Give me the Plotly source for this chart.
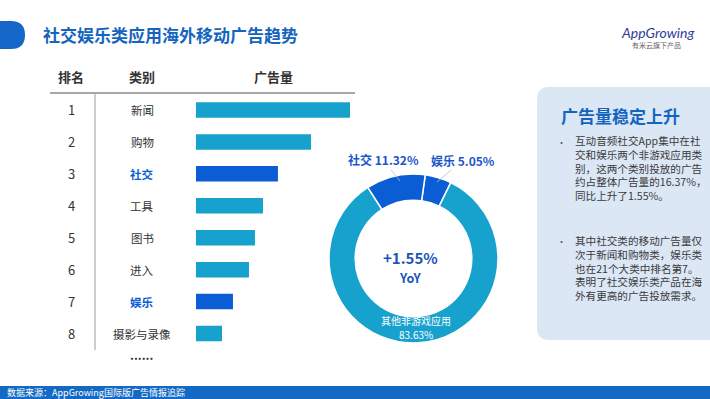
import plotly.graph_objects as go

W, H = 710, 399
FONT = "Noto Sans CJK SC"

# ---------------- data ----------------
ranks = [1, 2, 3, 4, 5, 6, 7, 8]
categories = ["新闻", "购物", "社交", "工具", "图书", "进入", "娱乐", "摄影与录像"]
ad_volume = [100, 74.7, 53.2, 43.5, 38.3, 34.4, 24.0, 16.9]   # relative ad volume index
highlight = ["社交", "娱乐"]

pie_labels = ["娱乐", "其他非游戏应用", "社交"]
pie_values = [5.05, 83.63, 11.32]
yoy_text = "+1.55%"

# ---------------- colours ----------------
C_LIGHT = "#17A2CE"
C_DARK = "#0B5DD6"
C_TITLE = "#1565C0"
C_TEXT = "#333333"


def X(p):
    return p / W


def Y(p):
    return 1 - p / H


fig = go.Figure()

bar_colors = [C_DARK if c in highlight else C_LIGHT for c in categories]
fig.add_trace(go.Bar(
    x=ad_volume, y=ranks, orientation="h",
    marker=dict(color=bar_colors, line=dict(width=0)),
    width=0.485, xaxis="x", yaxis="y", showlegend=False,
    hoverinfo="skip",
))

PCX, PCY, PR = 413.5, 258.5, 84.5
fig.add_trace(go.Pie(
    labels=pie_labels, values=pie_values, hole=0.69, sort=False,
    direction="clockwise", rotation=8,
    marker=dict(colors=[C_DARK, C_LIGHT, C_DARK], line=dict(color="white", width=1.5)),
    textinfo="none", hoverinfo="skip", showlegend=False,
    domain=dict(x=[X(PCX - PR), X(PCX + PR)], y=[Y(PCY + PR), Y(PCY - PR)]),
))

annotations = []
shapes = []


def note(text, x, y, size, color, xanchor="center", family=FONT, **kw):
    d = dict(text=text, x=x, y=y, xref="paper", yref="paper", xanchor=xanchor, yanchor="middle",
             showarrow=False, font=dict(size=size, color=color, family=family))
    d.update(kw)
    annotations.append(d)


# title tab + title
shapes.append(dict(type="path", xref="paper", yref="paper",
                   path=f"M {X(0)},{Y(21)} L {X(11)},{Y(21)} Q {X(25)},{Y(21)} {X(25)},{Y(35)} "
                        f"Q {X(25)},{Y(49)} {X(11)},{Y(49)} L {X(0)},{Y(49)} Z",
                   fillcolor="#1467C9", line=dict(width=0)))
note("<b>社交娱乐类应用海外移动广告趋势</b>", X(41), Y(34), 17, C_TITLE, xanchor="left")

# logo
note("<i>AppGrowing</i>", X(657), Y(32), 14, "#2F3C9A", family="Lato")
note("有米云旗下产品", X(656), Y(45), 7, "#666666")

# table headers
for txt, xc in [("排名", 71), ("类别", 142), ("广告量", 273)]:
    note(f"<b>{txt}</b>", X(xc), Y(77), 13, C_TEXT)
shapes.append(dict(type="line", xref="paper", yref="paper", x0=X(50), x1=X(355), y0=Y(93), y1=Y(93),
                   line=dict(color="#A8A8A8", width=1.8)))
shapes.append(dict(type="line", xref="paper", yref="paper", x0=X(95), x1=X(95), y0=Y(94), y1=Y(350),
                   line=dict(color="#9A9A9A", width=1)))

# table rows
for r, c in zip(ranks, categories):
    note(str(r), X(71), r, 13, C_TEXT, yref="y")
    hl = c in highlight
    note(f"<b>{c}</b>" if hl else c, X(142), r, 11.5, C_DARK if hl else C_TEXT, yref="y")
note("<b>......</b>", X(142), Y(354), 12, C_TEXT)

# donut labels
pv = dict(zip(pie_labels, pie_values))
annotations.append(dict(text=f"<b>社交 {pv['社交']:.2f}%</b>", x=X(400), y=Y(181), ax=-17, ay=-21,
                        xref="paper", yref="paper",
                        showarrow=True, arrowhead=0, arrowwidth=0.8, arrowcolor="#BBBBBB", standoff=0,
                        font=dict(size=12, color="#1A56C8", family=FONT)))
annotations.append(dict(text=f"<b>娱乐 {pv['娱乐']:.2f}%</b>", x=X(437), y=Y(182), ax=26, ay=-22,
                        xref="paper", yref="paper",
                        showarrow=True, arrowhead=0, arrowwidth=0.8, arrowcolor="#BBBBBB", standoff=0,
                        font=dict(size=12, color="#1A56C8", family=FONT)))
note("其他非游戏应用", X(416), Y(320), 10, "white", borderpad=0)
note(f"{pv['其他非游戏应用']:.2f}%", X(416), Y(334.5), 10, "white", borderpad=0)
note(f"<b>{yoy_text}</b>", X(410), Y(257), 15, "#1A56B8", borderpad=0)
note("<b>YoY</b>", X(410), Y(277.5), 12.5, "#1A56B8", borderpad=0)

# right panel
r0 = 12
x0p, x1p, y0p, y1p = 537, 730, 87, 340
shapes.append(dict(type="path", xref="paper", yref="paper",
                   path=(f"M {X(x0p + r0)},{Y(y0p)} L {X(x1p)},{Y(y0p)} L {X(x1p)},{Y(y1p)} "
                         f"L {X(x0p + r0)},{Y(y1p)} Q {X(x0p)},{Y(y1p)} {X(x0p)},{Y(y1p - r0)} "
                         f"L {X(x0p)},{Y(y0p + r0)} Q {X(x0p)},{Y(y0p)} {X(x0p + r0)},{Y(y0p)} Z"),
                   fillcolor="#DCE7F6", line=dict(width=0), layer="below"))
note("<b>广告量稳定上升</b>", X(559), Y(115), 17, C_TITLE, xanchor="left")
bullet1 = ["互动音频社交App集中在社", "交和娱乐两个非游戏应用类", "别，这两个类别投放的广告",
           "约占整体广告量的16.37%，", "同比上升了1.55%。"]
bullet2 = ["其中社交类的移动广告量仅", "次于新闻和购物类，娱乐类", "也在21个大类中排名第7。",
           "表明了社交娱乐类产品在海", "外有更高的广告投放需求。"]
for lines, ytop in [(bullet1, 142), (bullet2, 241)]:
    note("<br>".join(lines), X(573), Y(ytop + 2 * 13.25), 10.6, "#3A3A3A", xanchor="left", align="left")
    note("•", X(561), Y(ytop), 9, "#555555")

# footer
shapes.append(dict(type="rect", xref="paper", yref="paper", x0=0, x1=1, y0=0, y1=Y(386),
                   fillcolor="#1469C4", line=dict(width=0)))
note("数据来源：AppGrowing国际版广告情报追踪", X(5), Y(392.5), 9, "white", xanchor="left")

fig.update_layout(
    width=W, height=H, margin=dict(l=0, r=0, t=0, b=0),
    paper_bgcolor="white", plot_bgcolor="rgba(0,0,0,0)",
    font=dict(family=FONT),
    xaxis=dict(domain=[X(196), X(350)], range=[0, 100], visible=False, fixedrange=True),
    yaxis=dict(domain=[Y(349.5), Y(94)], range=[8.5, 0.5], visible=False, fixedrange=True),
    shapes=shapes, annotations=annotations, showlegend=False,
)

fig.write_html("out.html", config={"displayModeBar": False},
               post_script="document.body.style.margin='0';document.body.style.padding='0';")
